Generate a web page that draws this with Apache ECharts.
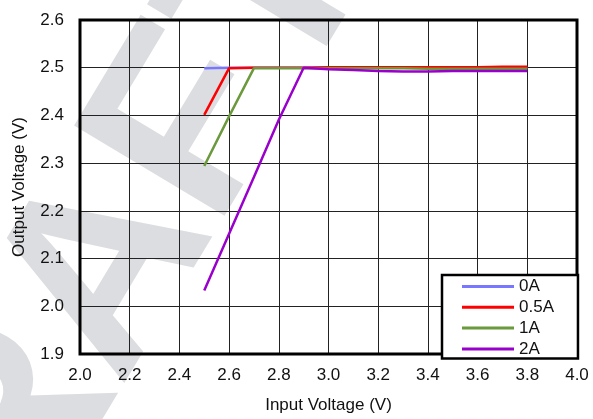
<!DOCTYPE html>
<html>
<head>
<meta charset="utf-8">
<script src="https://cdn.jsdelivr.net/npm/echarts@6/dist/echarts.min.js"></script>
<style>
html,body{margin:0;padding:0;background:#fff;}
#chart{width:593px;height:419px;}
</style>
</head>
<body>
<div id="chart"></div>
<script>
const inputV = [2.5, 2.6, 2.7, 2.8, 2.9, 3.0, 3.1, 3.2, 3.3, 3.4, 3.5, 3.6, 3.7, 3.8];
const out0A  = [2.499, 2.5, 2.5, 2.5, 2.5, 2.5, 2.5, 2.5, 2.5, 2.5, 2.5, 2.5, 2.5, 2.5];
const out05A = [2.401, 2.499, 2.5, 2.5, 2.5, 2.501, 2.501, 2.501, 2.501, 2.501, 2.501, 2.501, 2.502, 2.502];
const out1A  = [2.294, 2.398, 2.499, 2.499, 2.499, 2.499, 2.499, 2.499, 2.499, 2.498, 2.498, 2.498, 2.498, 2.498];
const out2A  = [2.033, 2.152, 2.271, 2.391, 2.5, 2.497, 2.495, 2.493, 2.492, 2.492, 2.493, 2.493, 2.493, 2.493];
const seriesNames = ['0A', '0.5A', '1A', '2A'];
const seriesColors = ['#7777ff', '#ff0000', '#6b9a3c', '#9a00cc'];
const xTicks = [2.0, 2.2, 2.4, 2.6, 2.8, 3.0, 3.2, 3.4, 3.6, 3.8, 4.0];
const yTicks = [1.9, 2.0, 2.1, 2.2, 2.3, 2.4, 2.5, 2.6];

const allData = [out0A, out05A, out1A, out2A];
const chart = echarts.init(document.getElementById('chart'), null, {renderer: 'canvas'});
const font = 'Liberation Sans, Arial, sans-serif';
const fs = 17;
chart.setOption({
  animation: false,
  backgroundColor: '#fff',
  graphic: [{
    type: 'text',
    z: -10,
    x: -129, y: 668,
    rotation: 1.03,
    style: {
      text: 'DRAFT',
      font: 'bold 255px Liberation Sans, Arial, sans-serif',
      fill: '#dcdde0',
      textAlign: 'left',
      textVerticalAlign: 'middle'
    }
  }],
  grid: {left: 80, right: 16, top: 20, bottom: 63, show: true, borderColor: '#000', borderWidth: 3, backgroundColor: 'transparent', z: 1},
  xAxis: {
    type: 'value', min: 2.0, max: 4.0, interval: 0.2,
    name: 'Input Voltage (V)', nameLocation: 'middle', nameGap: 43,
    nameTextStyle: {fontFamily: font, fontSize: fs, color: '#111'},
    axisLine: {show: false}, axisTick: {show: false},
    axisLabel: {fontFamily: font, fontSize: fs, color: '#111', margin: 13, formatter: v => v.toFixed(1)},
    splitLine: {show: true, lineStyle: {color: '#222', width: 1}}
  },
  yAxis: {
    type: 'value', min: 1.9, max: 2.6, interval: 0.1,
    name: 'Output Voltage (V)', nameLocation: 'middle', nameGap: 52,
    nameTextStyle: {fontFamily: font, fontSize: fs, color: '#111'},
    axisLine: {show: false}, axisTick: {show: false},
    axisLabel: {fontFamily: font, fontSize: fs, color: '#111', margin: 16, formatter: v => v.toFixed(1)},
    splitLine: {show: true, lineStyle: {color: '#222', width: 1}}
  },
  legend: {
    orient: 'vertical', left: 442, top: 275,
    backgroundColor: '#fff', borderColor: '#000', borderWidth: 2.5,
    padding: [3, 24, 1, 20], itemGap: 3.8, itemWidth: 52, itemHeight: 3,
    icon: 'rect',
    textStyle: {fontFamily: font, fontSize: fs, color: '#111', lineHeight: 14},
    data: seriesNames
  },
  series: seriesNames.map((n, i) => ({
    name: n, type: 'line', symbol: 'none', z: 3 + i,
    color: seriesColors[i],
    lineStyle: {width: 2.5, color: seriesColors[i]},
    data: inputV.map((x, k) => [x, allData[i][k]])
  }))
});
</script>
</body>
</html>
